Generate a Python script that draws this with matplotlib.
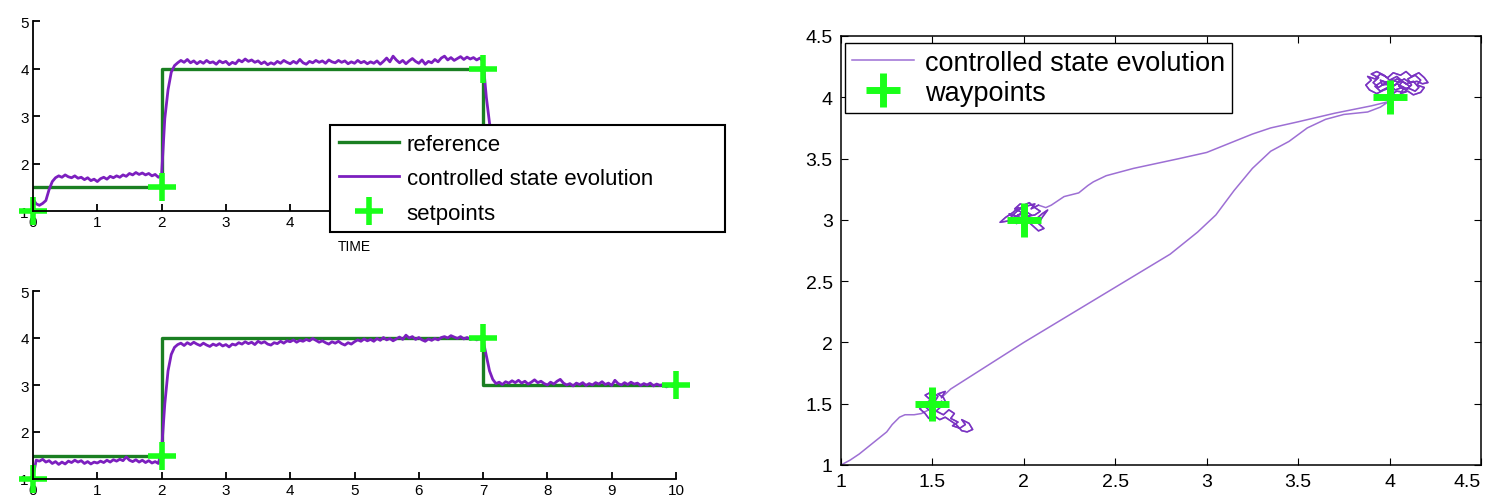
import numpy as np
import matplotlib
matplotlib.use("Agg")
from matplotlib import pyplot as plt

# ---- data -------------------------------------------------------------
# reference levels (step, held until next time)
ref_times = [0, 2, 7, 10]
ref_top = [1.5, 4, 2, 2]
ref_bottom = [1.5, 4, 3, 3]

# setpoints
sp_times = [0, 2, 7, 10]
sp_top = [1, 1.5, 4, 2]
sp_bottom = [1, 1.5, 4, 3]

# controlled state, sampled every 0.05 s
x_top = [
    1.25, 1.15, 1.12, 1.16, 1.22, 1.45, 1.62, 1.70, 1.74, 1.71, 1.76, 1.72, 1.70, 1.74, 1.69, 1.71, 1.66, 1.70, 1.64, 1.67,
    1.62, 1.68, 1.71, 1.67, 1.73, 1.70, 1.74, 1.71, 1.76, 1.73, 1.79, 1.76, 1.81, 1.77, 1.80, 1.76, 1.79, 1.74, 1.77, 1.71,
    1.76, 2.95, 3.55, 3.92, 4.06, 4.12, 4.17, 4.13, 4.19, 4.12, 4.16, 4.10, 4.15, 4.11, 4.17, 4.12, 4.14, 4.09, 4.16, 4.12,
    4.15, 4.08, 4.13, 4.10, 4.18, 4.14, 4.20, 4.15, 4.18, 4.13, 4.16, 4.10, 4.14, 4.08, 4.12, 4.09, 4.15, 4.11, 4.17, 4.13,
    4.10, 4.15, 4.11, 4.19, 4.12, 4.09, 4.15, 4.12, 4.17, 4.13, 4.16, 4.11, 4.18, 4.14, 4.12, 4.17, 4.13, 4.16, 4.10, 4.14,
    4.11, 4.17, 4.12, 4.15, 4.10, 4.14, 4.11, 4.16, 4.09, 4.15, 4.22, 4.14, 4.26, 4.18, 4.12, 4.17, 4.10, 4.16, 4.21, 4.15,
    4.11, 4.18, 4.09, 4.15, 4.12, 4.19, 4.14, 4.22, 4.26, 4.18, 4.23, 4.17, 4.21, 4.25, 4.19, 4.24, 4.20, 4.23, 4.18, 4.22,
    4.15, 3.40, 2.85, 2.50, 2.30, 2.18, 2.12, 2.08, 2.05, 2.09, 2.04, 2.07, 2.02, 2.06, 2.03, 2.08, 2.01, 2.05, 2.02, 2.06,
    2.03, 2.07, 2.01, 2.04, 2.00, 2.05, 2.02, 2.06, 2.01, 2.04, 1.99, 2.03, 2.00, 2.05, 2.02, 2.06, 2.01, 2.04, 2.00, 2.03,
    1.99, 2.04, 2.01, 2.05, 2.00, 2.03, 1.98, 2.02, 2.00, 2.04, 2.01,
]
x_bottom = [
    1.05, 1.40, 1.38, 1.42, 1.36, 1.39, 1.33, 1.37, 1.31, 1.36, 1.32, 1.38, 1.35, 1.40, 1.36, 1.39, 1.33, 1.37, 1.32, 1.36,
    1.34, 1.38, 1.35, 1.40, 1.36, 1.41, 1.38, 1.42, 1.39, 1.47, 1.40, 1.37, 1.41, 1.36, 1.40, 1.35, 1.39, 1.34, 1.37, 1.33,
    1.62, 2.60, 3.30, 3.65, 3.80, 3.86, 3.89, 3.84, 3.90, 3.86, 3.91, 3.87, 3.84, 3.89, 3.85, 3.82, 3.87, 3.84, 3.88, 3.83,
    3.86, 3.81, 3.87, 3.85, 3.90, 3.87, 3.92, 3.88, 3.91, 3.86, 3.93, 3.89, 3.92, 3.87, 3.85, 3.90, 3.88, 3.93, 3.89, 3.94,
    3.92, 3.96, 3.91, 3.95, 3.93, 3.97, 3.94, 3.99, 3.95, 3.91, 3.94, 3.90, 3.87, 3.92, 3.89, 3.93, 3.88, 3.85, 3.90, 3.87,
    3.92, 3.96, 3.93, 3.98, 3.94, 3.97, 3.93, 3.99, 3.95, 4.01, 3.96, 3.99, 3.94, 3.98, 4.02, 3.97, 4.06, 4.00, 4.03, 3.97,
    4.01, 3.96, 3.93, 3.98, 3.95, 3.99, 3.96, 4.01, 4.03, 4.00, 4.05, 4.02, 3.99, 4.03, 3.98, 4.01, 3.97, 4.00, 3.96, 3.99,
    3.95, 3.62, 3.30, 3.12, 3.03, 3.06, 3.01, 3.07, 3.04, 3.09, 3.05, 3.10, 3.04, 3.08, 3.02, 3.06, 3.11, 3.05, 3.08, 3.03,
    3.00, 3.06, 3.02, 3.08, 3.12, 3.04, 3.00, 3.03, 2.98, 3.04, 3.01, 3.05, 2.99, 3.03, 3.00, 3.05, 3.02, 3.07, 3.01, 3.04,
    2.99, 3.10, 3.03, 3.00, 3.05, 3.01, 3.06, 3.02, 3.04, 2.99, 3.03, 3.00, 3.04, 2.98, 3.02, 2.99, 3.01, 2.96, 3.00, 2.97,
    3.00,
]

# 2-D trajectory, in visiting order
leg_start = [(1.00, 1.00), (1.05, 1.04), (1.10, 1.09), (1.15, 1.15), (1.20, 1.21), (1.25, 1.27),
             (1.28, 1.33), (1.32, 1.39), (1.35, 1.41), (1.40, 1.41), (1.44, 1.42)]
hover_a = [(1.48, 1.45), (1.45, 1.49), (1.49, 1.53), (1.46, 1.57), (1.50, 1.60), (1.53, 1.56), (1.51, 1.51),
           (1.55, 1.48), (1.52, 1.44), (1.56, 1.41), (1.59, 1.45), (1.62, 1.42), (1.60, 1.38), (1.64, 1.35),
           (1.61, 1.32), (1.65, 1.30), (1.68, 1.33), (1.66, 1.37), (1.70, 1.34), (1.72, 1.29), (1.69, 1.27),
           (1.66, 1.28), (1.63, 1.33), (1.60, 1.36), (1.57, 1.39), (1.54, 1.37), (1.51, 1.40), (1.48, 1.38),
           (1.46, 1.42), (1.43, 1.46), (1.47, 1.50), (1.51, 1.47), (1.55, 1.52), (1.58, 1.49), (1.56, 1.55),
           (1.53, 1.58), (1.57, 1.60), (1.55, 1.55)]
leg_ab = [(1.60, 1.62), (1.80, 1.81), (2.00, 2.00), (2.20, 2.18), (2.40, 2.36), (2.60, 2.54), (2.80, 2.72),
          (2.95, 2.90), (3.05, 3.04), (3.15, 3.24), (3.25, 3.42), (3.35, 3.56), (3.45, 3.64), (3.55, 3.75),
          (3.65, 3.82), (3.75, 3.86), (3.88, 3.88), (3.95, 3.92), (4.00, 3.97)]
hover_b = [(4.03, 4.02), (3.99, 4.05), (4.02, 4.09), (3.97, 4.11), (3.94, 4.08), (3.91, 4.12), (3.94, 4.16),
           (3.90, 4.19), (3.93, 4.21), (3.97, 4.18), (4.00, 4.14), (4.04, 4.17), (4.07, 4.13), (4.05, 4.09),
           (4.09, 4.06), (4.12, 4.10), (4.10, 4.15), (4.14, 4.18), (4.17, 4.14), (4.15, 4.10), (4.19, 4.08),
           (4.17, 4.04), (4.13, 4.02), (4.10, 4.05), (4.06, 4.03), (4.08, 4.08), (4.04, 4.11), (4.01, 4.08),
           (3.97, 4.06), (3.93, 4.03), (3.89, 4.06), (3.87, 4.10), (3.90, 4.14), (3.88, 4.17), (3.92, 4.15),
           (3.95, 4.19), (3.99, 4.16), (4.02, 4.20), (4.06, 4.18), (4.09, 4.21), (4.12, 4.17), (4.16, 4.20),
           (4.19, 4.16), (4.21, 4.12), (4.18, 4.11), (4.15, 4.13), (4.11, 4.12), (4.08, 4.15), (4.05, 4.12),
           (4.02, 4.14), (3.98, 4.12), (3.95, 4.14), (3.96, 4.10), (4.00, 4.11), (4.03, 4.06), (4.07, 4.08),
           (4.11, 4.07), (4.14, 4.05), (4.16, 4.08), (4.13, 4.13), (4.09, 4.11), (4.06, 4.14), (4.03, 4.10),
           (3.99, 4.08), (3.95, 4.05), (3.92, 4.09), (3.96, 4.13), (4.01, 4.12), (4.04, 4.15), (4.08, 4.12),
           (4.11, 4.09), (4.08, 4.04), (4.04, 4.05), (4.00, 4.02), (3.97, 4.00), (4.01, 3.97)]
leg_bc = [(3.90, 3.93), (3.70, 3.87), (3.50, 3.80), (3.35, 3.75), (3.25, 3.70), (3.10, 3.61), (3.00, 3.55),
          (2.85, 3.50), (2.60, 3.42), (2.45, 3.36), (2.38, 3.31), (2.35, 3.28), (2.30, 3.22), (2.22, 3.19),
          (2.15, 3.12), (2.12, 3.10)]
hover_c = [(2.08, 3.12), (2.04, 3.09), (2.06, 3.13), (2.01, 3.11), (1.98, 3.13), (1.95, 3.09), (1.99, 3.06),
           (1.96, 3.03), (1.92, 3.05), (1.95, 3.00), (1.91, 2.99), (1.87, 2.98), (1.90, 3.02), (1.94, 3.06),
           (1.97, 3.10), (2.01, 3.07), (2.04, 3.04), (2.00, 3.01), (2.03, 2.98), (2.07, 3.01), (2.10, 3.05),
           (2.13, 3.08), (2.10, 3.02), (2.08, 2.97), (2.11, 2.93), (2.08, 2.91), (2.05, 2.95), (2.02, 2.99),
           (1.98, 3.02), (1.94, 3.04), (1.97, 3.08), (2.00, 3.12), (2.03, 3.14), (2.06, 3.10), (2.09, 3.07),
           (2.06, 3.04), (2.02, 3.03), (1.99, 2.99), (1.96, 2.97), (1.93, 3.01), (1.97, 3.04), (2.01, 3.05)]
wp_x = [1.5, 2, 4]
wp_y = [1.5, 3, 4]

# ---- styling ----------------------------------------------------------
GREEN = "#1a7f22"
PURPLE = "#7c1fbf"
LIME = "#19ff19"
LAVENDER = "#9d6fd4"
DARK_LAV = "#7a33c2"
SANS = ["Liberation Sans", "DejaVu Sans"]

W, H = 1486, 502
fig = plt.figure(figsize=(W / 100, H / 100), dpi=100)


def px_axes(x0, y0, x1, y1):
    # pixel box (top-left origin) -> figure axes
    return fig.add_axes([x0 / W, 1 - y1 / H, (x1 - x0) / W, (y1 - y0) / H])


def time_panel(ax, x, ref, sp):
    t = np.arange(len(x)) * 0.05
    l_ref, = ax.step(ref_times, ref, where="post", color=GREEN, lw=2.4, label="reference")
    l_state, = ax.plot(t, x, color=PURPLE, lw=2.0, label="controlled state evolution")
    l_sp, = ax.plot(sp_times, sp, "+", color=LIME, ms=20, mew=4, clip_on=False, label="setpoints")
    ax.set_xlim(0, 10)
    ax.set_ylim(1, 5)
    ax.set_xticks(range(0, 11))
    ax.set_yticks(range(1, 6))
    for s in ["top", "right"]:
        ax.spines[s].set_visible(False)
    for s in ["left", "bottom"]:
        ax.spines[s].set_linewidth(1.3)
    ax.tick_params(direction="in", length=5, width=1.3, labelsize=11, pad=3)
    for lab in ax.get_xticklabels() + ax.get_yticklabels():
        lab.set_family(SANS)
    return [l_ref, l_state, l_sp]


ax1 = px_axes(33, 22, 676, 212)
handles = time_panel(ax1, x_top, ref_top, sp_top)
# labels 5..10 sit under the legend box
ax1.set_xticklabels([str(i) if i < 5 else "" for i in range(11)], family=SANS)
ax1.set_xlabel("TIME", family=SANS, fontsize=10, labelpad=7)
leg = ax1.legend(handles=handles, loc="upper left", mode="expand",
                 bbox_to_anchor=(330 / W, 1 - 126 / H - 0.01, 395 / W, 0.01),
                 bbox_transform=fig.transFigure, prop={"family": SANS, "size": 16},
                 fancybox=False, framealpha=1, edgecolor="black", borderpad=0.4,
                 labelspacing=0.6, handlelength=2.7, handletextpad=0.35, borderaxespad=0)
leg.get_frame().set_linewidth(1.5)
leg.set_zorder(10)

ax2 = px_axes(33, 292, 676, 480)
time_panel(ax2, x_bottom, ref_bottom, sp_bottom)

# ---- right: xy trajectory --------------------------------------------
path = np.array(leg_start + hover_a + leg_ab + hover_b + leg_bc + hover_c)
ax3 = px_axes(841, 37, 1481, 466)
ax3.plot(path[:, 0], path[:, 1], color=LAVENDER, lw=1.1, label="controlled state evolution")
# hovering around each waypoint reads darker in the original
for hov in (hover_a, hover_b, hover_c):
    h = np.array(hov)
    ax3.plot(h[:, 0], h[:, 1], color=DARK_LAV, lw=1.1)
ax3.plot(wp_x, wp_y, "+", color=LIME, ms=24, mew=5, label="waypoints")
ax3.set_xlim(1, 4.5)
ax3.set_ylim(1, 4.5)
ticks = ["1", "1.5", "2", "2.5", "3", "3.5", "4", "4.5"]
ax3.set_xticks(np.arange(1, 4.51, 0.5))
ax3.set_yticks(np.arange(1, 4.51, 0.5))
ax3.set_xticklabels(ticks)
ax3.set_yticklabels(ticks)
ax3.tick_params(direction="in", length=5, width=0.8, top=True, right=True, labelsize=14, pad=6)
for lab in ax3.get_xticklabels() + ax3.get_yticklabels():
    lab.set_family(SANS)
# last x label sits at the figure edge: keep it inside
ax3.get_xticklabels()[-1].set_horizontalalignment("right")
for s in ax3.spines.values():
    s.set_linewidth(1.1)
leg3 = ax3.legend(loc="upper left", bbox_to_anchor=(845 / W, 1 - 44 / H),
                  bbox_transform=fig.transFigure, prop={"family": SANS, "size": 19.5},
                  fancybox=False, framealpha=1, edgecolor="black", borderpad=0.25,
                  labelspacing=0.15, handlelength=2.3, handletextpad=0.4, borderaxespad=0)
leg3.get_frame().set_linewidth(1.0)

fig.savefig("out.png", dpi=100)
